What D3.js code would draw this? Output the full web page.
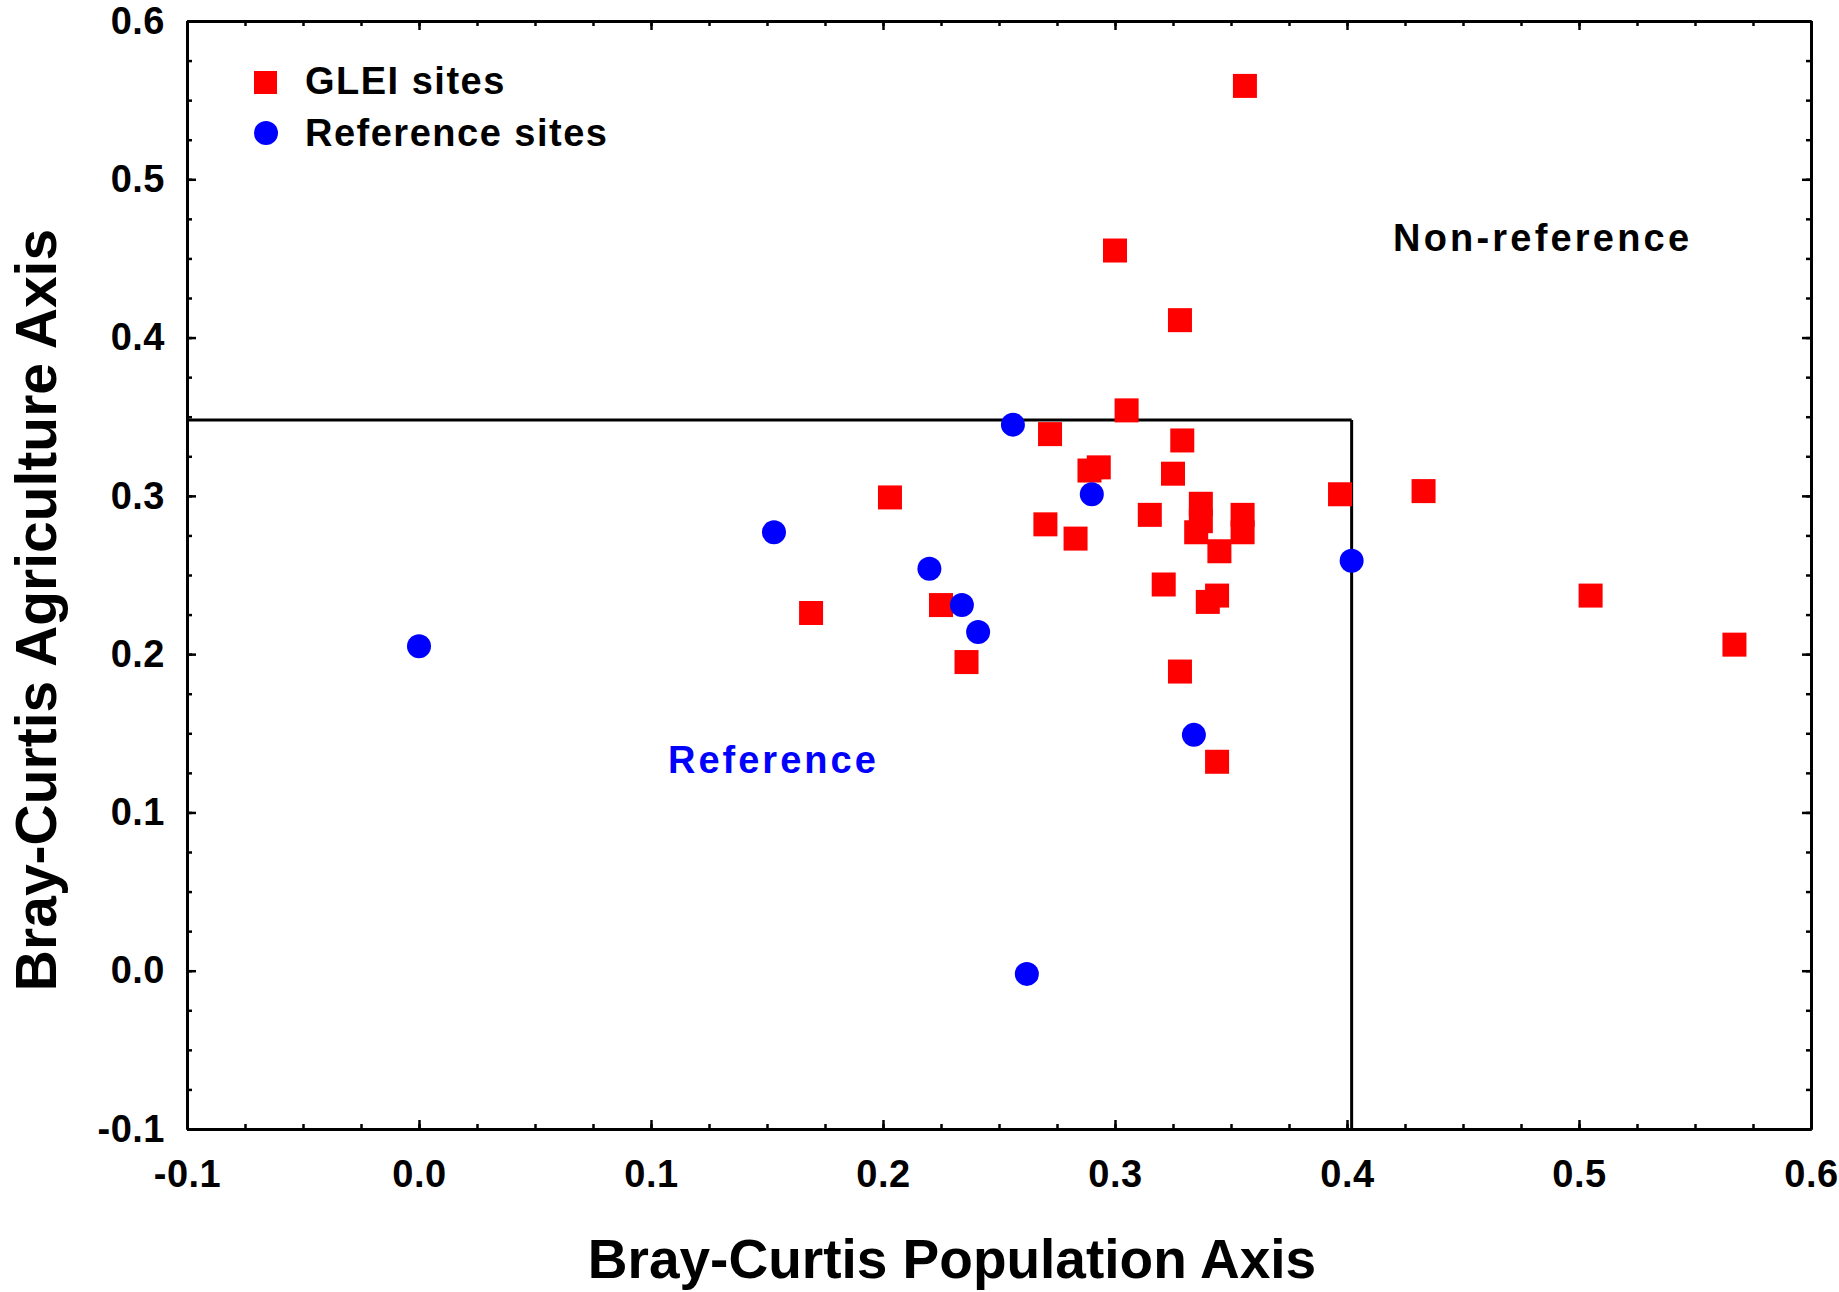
<!DOCTYPE html>
<html>
<head>
<meta charset="utf-8">
<script src="https://cdn.jsdelivr.net/npm/d3@7"></script>
<style>
  body { margin: 0; background: #fff; }
  text { font-family: "Liberation Sans", Arial, sans-serif; font-weight: bold; }
</style>
</head>
<body>
<svg id="chart" width="1839" height="1292"></svg>
<script>
// GLEI sites (red squares): population axis / agriculture axis
const gleiX = [0.356, 0.300, 0.328, 0.305, 0.272, 0.329, 0.289, 0.293, 0.325, 0.203,
               0.397, 0.433, 0.270, 0.283, 0.315, 0.337, 0.337, 0.335, 0.355, 0.355,
               0.345, 0.321, 0.344, 0.340, 0.225, 0.236, 0.328, 0.344, 0.169, 0.505, 0.567];
const gleiY = [0.559, 0.455, 0.411, 0.354, 0.339, 0.335, 0.316, 0.318, 0.314, 0.299,
               0.301, 0.303, 0.282, 0.273, 0.288, 0.295, 0.284, 0.277, 0.288, 0.277,
               0.265, 0.244, 0.237, 0.233, 0.231, 0.195, 0.189, 0.132, 0.226, 0.237, 0.206];

// Reference sites (blue circles)
const refX = [0.256, 0.290, 0.402, 0.220, 0.234, 0.241, 0.334, 0.153, 0.000, 0.262];
const refY = [0.345, 0.301, 0.259, 0.254, 0.231, 0.214, 0.149, 0.277, 0.205, -0.002];

// threshold box
const cutX = 0.402;
const cutY = 0.348;

// ticks
const xTicks = [-0.1, 0.0, 0.1, 0.2, 0.3, 0.4, 0.5, 0.6];
const yTicks = [-0.1, 0.0, 0.1, 0.2, 0.3, 0.4, 0.5, 0.6];

const legendLabels = ["GLEI sites", "Reference sites"];

var svg = d3.select("#chart");

const pLeft = 187, pRight = 1811, pTop = 21, pBottom = 1129;

const x = d3.scaleLinear().domain([-0.1, 0.6]).range([pLeft, pRight]);
const y = d3.scaleLinear().domain([-0.1, 0.6]).range([pBottom, pTop]);

const minor = d3.range(-0.1, 0.6001, 0.025);
const fmt = d => d.toFixed(1);

// 短刻度 (minor ticks, pointing inward)
svg.append("g").attr("transform", `translate(0,${pBottom})`)
    .call(d3.axisBottom(x).tickValues(minor).tickSize(-5).tickSizeOuter(0).tickFormat(""));
svg.append("g").attr("transform", `translate(0,${pTop})`)
    .call(d3.axisTop(x).tickValues(minor).tickSize(-5).tickSizeOuter(0).tickFormat(""));
svg.append("g").attr("transform", `translate(${pLeft},0)`)
    .call(d3.axisLeft(y).tickValues(minor).tickSize(-5).tickSizeOuter(0).tickFormat(""));
svg.append("g").attr("transform", `translate(${pRight},0)`)
    .call(d3.axisRight(y).tickValues(minor).tickSize(-5).tickSizeOuter(0).tickFormat(""));

// 主刻度 + labels
var xAxis = svg.append("g").attr("transform", `translate(0,${pBottom})`)
    .call(d3.axisBottom(x).tickValues(xTicks).tickSize(-9).tickSizeOuter(0).tickFormat(fmt));
xAxis.selectAll("text").attr("y", 58).attr("dy", null);

var yAxis = svg.append("g").attr("transform", `translate(${pLeft},0)`)
    .call(d3.axisLeft(y).tickValues(yTicks).tickSize(-9).tickSizeOuter(0).tickPadding(22).tickFormat(fmt));

svg.append("g").attr("transform", `translate(0,${pTop})`)
    .call(d3.axisTop(x).tickValues(xTicks).tickSize(-9).tickSizeOuter(0).tickFormat(""));
svg.append("g").attr("transform", `translate(${pRight},0)`)
    .call(d3.axisRight(y).tickValues(yTicks).tickSize(-9).tickSizeOuter(0).tickFormat(""));

svg.selectAll(".domain").attr("stroke", "#000").attr("stroke-width", 3);
svg.selectAll(".tick line").attr("stroke", "#000").attr("stroke-width", 2.5);
svg.selectAll(".tick text")
    .attr("fill", "#000")
    .style("font-size", "38px")
    .style("font-family", '"Liberation Sans", Arial, sans-serif')
    .style("font-weight", "bold")
    .style("letter-spacing", "0.5px");

// threshold lines
svg.append("line")
    .attr("x1", x(-0.1)).attr("y1", y(cutY))
    .attr("x2", x(cutX)).attr("y2", y(cutY))
    .attr("stroke", "#000").attr("stroke-width", 3);
svg.append("line")
    .attr("x1", x(cutX)).attr("y1", y(cutY))
    .attr("x2", x(cutX)).attr("y2", y(-0.1))
    .attr("stroke", "#000").attr("stroke-width", 3);

// red squares
const size = 24;
svg.append("g").selectAll("rect")
    .data(d3.range(gleiX.length))
    .join("rect")
    .attr("x", i => x(gleiX[i]) - size / 2)
    .attr("y", i => y(gleiY[i]) - size / 2)
    .attr("width", size)
    .attr("height", size)
    .attr("fill", "#ff0000");

// blue circles
svg.append("g").selectAll("circle")
    .data(d3.range(refX.length))
    .join("circle")
    .attr("cx", i => x(refX[i]))
    .attr("cy", i => y(refY[i]))
    .attr("r", 12)
    .attr("fill", "#0000ff");

// legend
svg.append("rect").attr("x", 254).attr("y", 71).attr("width", 23).attr("height", 23).attr("fill", "#ff0000");
svg.append("circle").attr("cx", 266).attr("cy", 133).attr("r", 12).attr("fill", "#0000ff");
svg.append("text").attr("x", 305).attr("y", 94)
    .style("font-size", "38px").style("letter-spacing", "1.5px").text(legendLabels[0]);
svg.append("text").attr("x", 305).attr("y", 146)
    .style("font-size", "38px").style("letter-spacing", "1.5px").text(legendLabels[1]);

// region labels
svg.append("text").attr("x", 668).attr("y", 773)
    .attr("fill", "#0000ff")
    .style("font-size", "38px").style("letter-spacing", "3px")
    .text("Reference");
svg.append("text").attr("x", 1393).attr("y", 251)
    .attr("fill", "#000")
    .style("font-size", "38px").style("letter-spacing", "3.2px")
    .text("Non-reference");

// axis titles
svg.append("text")
    .attr("x", 952).attr("y", 1278)
    .attr("text-anchor", "middle")
    .style("font-size", "55px")
    .text("Bray-Curtis Population Axis");

svg.append("text")
    .attr("transform", "translate(56,610) rotate(-90)")
    .attr("text-anchor", "middle")
    .style("font-size", "57px")
    .text("Bray-Curtis Agriculture Axis");
</script>
</body>
</html>
